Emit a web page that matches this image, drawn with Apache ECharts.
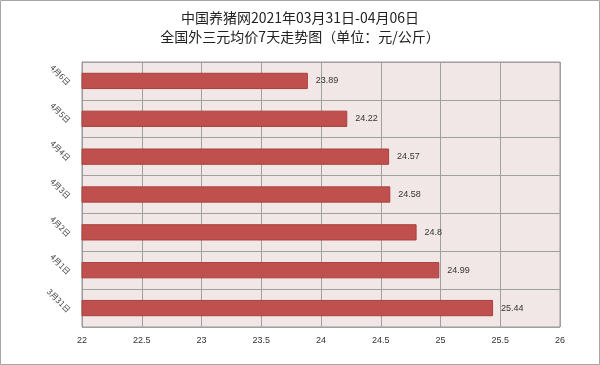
<!DOCTYPE html>
<html><head><meta charset="utf-8">
<script src="https://cdn.jsdelivr.net/npm/echarts@6/dist/echarts.min.js"></script>
<style>html,body{margin:0;padding:0;background:#fff}#c{width:600px;height:365px}</style>
</head><body><div id="c"></div>
<script>
var categories = ['3月31日','4月1日','4月2日','4月3日','4月4日','4月5日','4月6日'];
var values = [25.44, 24.99, 24.8, 24.58, 24.57, 24.22, 23.89];
var xTicks = [22, 22.5, 23, 23.5, 24, 24.5, 25, 25.5, 26];
var titleLines = ['中国养猪网2021年03月31日-04月06日', '全国外三元均价7天走势图（单位：元/公斤）'];

var chart = echarts.init(document.getElementById('c'), null, {renderer:'canvas'});
chart.setOption({
  animation:false,
  backgroundColor:'#fff',
  graphic:[{type:'rect', shape:{x:0.5,y:0.5,width:599,height:364}, style:{fill:'none', stroke:'#a6a6a6', lineWidth:1}, z:100}],
  title:{
    text: titleLines.join('\n'), left:'center', top:3,
    textStyle:{fontSize:14, fontWeight:'normal', color:'#222', lineHeight:19, fontFamily:'"Noto Sans CJK SC", sans-serif'}
  },
  grid:{left:82, right:40, top:62, bottom:38, show:true, backgroundColor:'#f2e7e7', borderColor:'#999', borderWidth:1},
  xAxis:{
    type:'value', min:xTicks[0], max:xTicks[xTicks.length-1], interval:0.5,
    axisLine:{show:false}, axisTick:{show:false},
    axisLabel:{fontSize:9, color:'#333', margin:9, fontFamily:'"Liberation Sans", sans-serif'},
    splitLine:{show:true, lineStyle:{color:'#a0a0a0', width:1}}
  },
  yAxis:{
    type:'category', data:categories,
    axisLine:{show:true, lineStyle:{color:'#999'}}, axisTick:{show:false},
    axisLabel:{fontSize:8, color:'#444', rotate:-45, margin:10, verticalAlign:'top', fontFamily:'"Noto Sans CJK SC", sans-serif'},
    splitLine:{show:true, lineStyle:{color:'#a0a0a0', width:1}}
  },
  series:[{
    type:'bar', data:values, barWidth:'43%',
    itemStyle:{color:'#c0504d', borderColor:'#a8403d', borderWidth:1},
    label:{show:true, position:'right', distance:8, fontSize:9, color:'#333', fontFamily:'"Liberation Sans", sans-serif'}
  }]
});
</script></body></html>
